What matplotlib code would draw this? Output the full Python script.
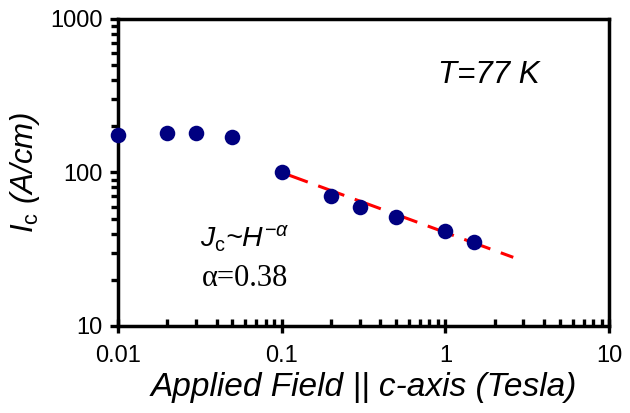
import matplotlib
matplotlib.use("Agg")
import matplotlib.pyplot as plt
from matplotlib.ticker import LogLocator, FixedFormatter, FixedLocator, NullFormatter

plt.rcParams["font.family"] = ["Liberation Sans", "DejaVu Sans"]
plt.rcParams["mathtext.fontset"] = "custom"
plt.rcParams["mathtext.rm"] = "Liberation Sans"
plt.rcParams["mathtext.it"] = "Liberation Sans:italic"
plt.rcParams["lines.scale_dashes"] = False

# measured critical current vs applied field (log-log)
field = [0.01, 0.02, 0.03, 0.05, 0.1, 0.2, 0.3, 0.5, 1.0, 1.5]
ic = [175, 180, 180, 170, 101, 70, 60, 51.5, 41.5, 35]

# power-law fit endpoints, Jc ~ H^-0.38
fit_field = [0.1, 2.6]
fit_ic = [100, 28]

x_ticks = [0.01, 0.1, 1, 10]
x_labels = ["0.01", "0.1", "1", "10"]
y_ticks = [10, 100, 1000]
y_labels = ["10", "100", "1000"]


def main():
    fig = plt.figure(figsize=(6.3, 4.13), dpi=100)
    ax = fig.add_axes([0.1873, 0.2107, 0.7794, 0.7433])

    ax.plot(fit_field, fit_ic, color="red", linewidth=2.2,
            linestyle=(0, (20, 8)), zorder=3)
    ax.plot(field, ic, linestyle="none", marker="o", markersize=11.2,
            color="#000080", markeredgewidth=0, clip_on=False, zorder=4)

    ax.set_xscale("log")
    ax.set_yscale("log")
    ax.set_xlim(0.01, 10)
    ax.set_ylim(10, 1000)

    ax.xaxis.set_major_locator(FixedLocator(x_ticks))
    ax.xaxis.set_major_formatter(FixedFormatter(x_labels))
    ax.yaxis.set_major_locator(FixedLocator(y_ticks))
    ax.yaxis.set_major_formatter(FixedFormatter(y_labels))
    ax.xaxis.set_minor_locator(LogLocator(base=10, subs=range(2, 10)))
    ax.yaxis.set_minor_locator(LogLocator(base=10, subs=range(2, 10)))
    ax.xaxis.set_minor_formatter(NullFormatter())
    ax.yaxis.set_minor_formatter(NullFormatter())

    ax.tick_params(axis="x", which="major", direction="inout", length=10,
                   width=2.4, labelsize=17, pad=9)
    ax.tick_params(axis="x", which="minor", direction="in", length=5, width=2.4)
    ax.tick_params(axis="y", which="major", direction="out", length=6,
                   width=2.4, labelsize=17, pad=5)
    ax.tick_params(axis="y", which="minor", direction="out", length=5, width=2.4)

    for sp in ax.spines.values():
        sp.set_linewidth(2.5)

    ax.set_xlabel("Applied Field || c-axis (Tesla)", fontsize=24,
                  fontstyle="italic", labelpad=3)
    ax.set_ylabel(r"$I_{\mathrm{c}}$ (A/cm)", fontsize=22.5,
                  fontstyle="italic", labelpad=6)

    ax.text(0.651, 0.818, "T=77 K", transform=ax.transAxes, fontsize=22.5,
            fontstyle="italic", ha="left", va="center")
    ax.text(0.166, 0.283, r"$J_{\mathrm{c}}$~$H^{-\alpha}$",
            transform=ax.transAxes, fontsize=20.5, fontstyle="italic",
            ha="left", va="center")
    ax.text(0.17, 0.155, "α=0.38", transform=ax.transAxes, fontsize=22,
            family=["Liberation Serif", "DejaVu Serif"], ha="left", va="center")

    fig.savefig("out.png", dpi=100)
    plt.close(fig)


if __name__ == "__main__":
    main()
